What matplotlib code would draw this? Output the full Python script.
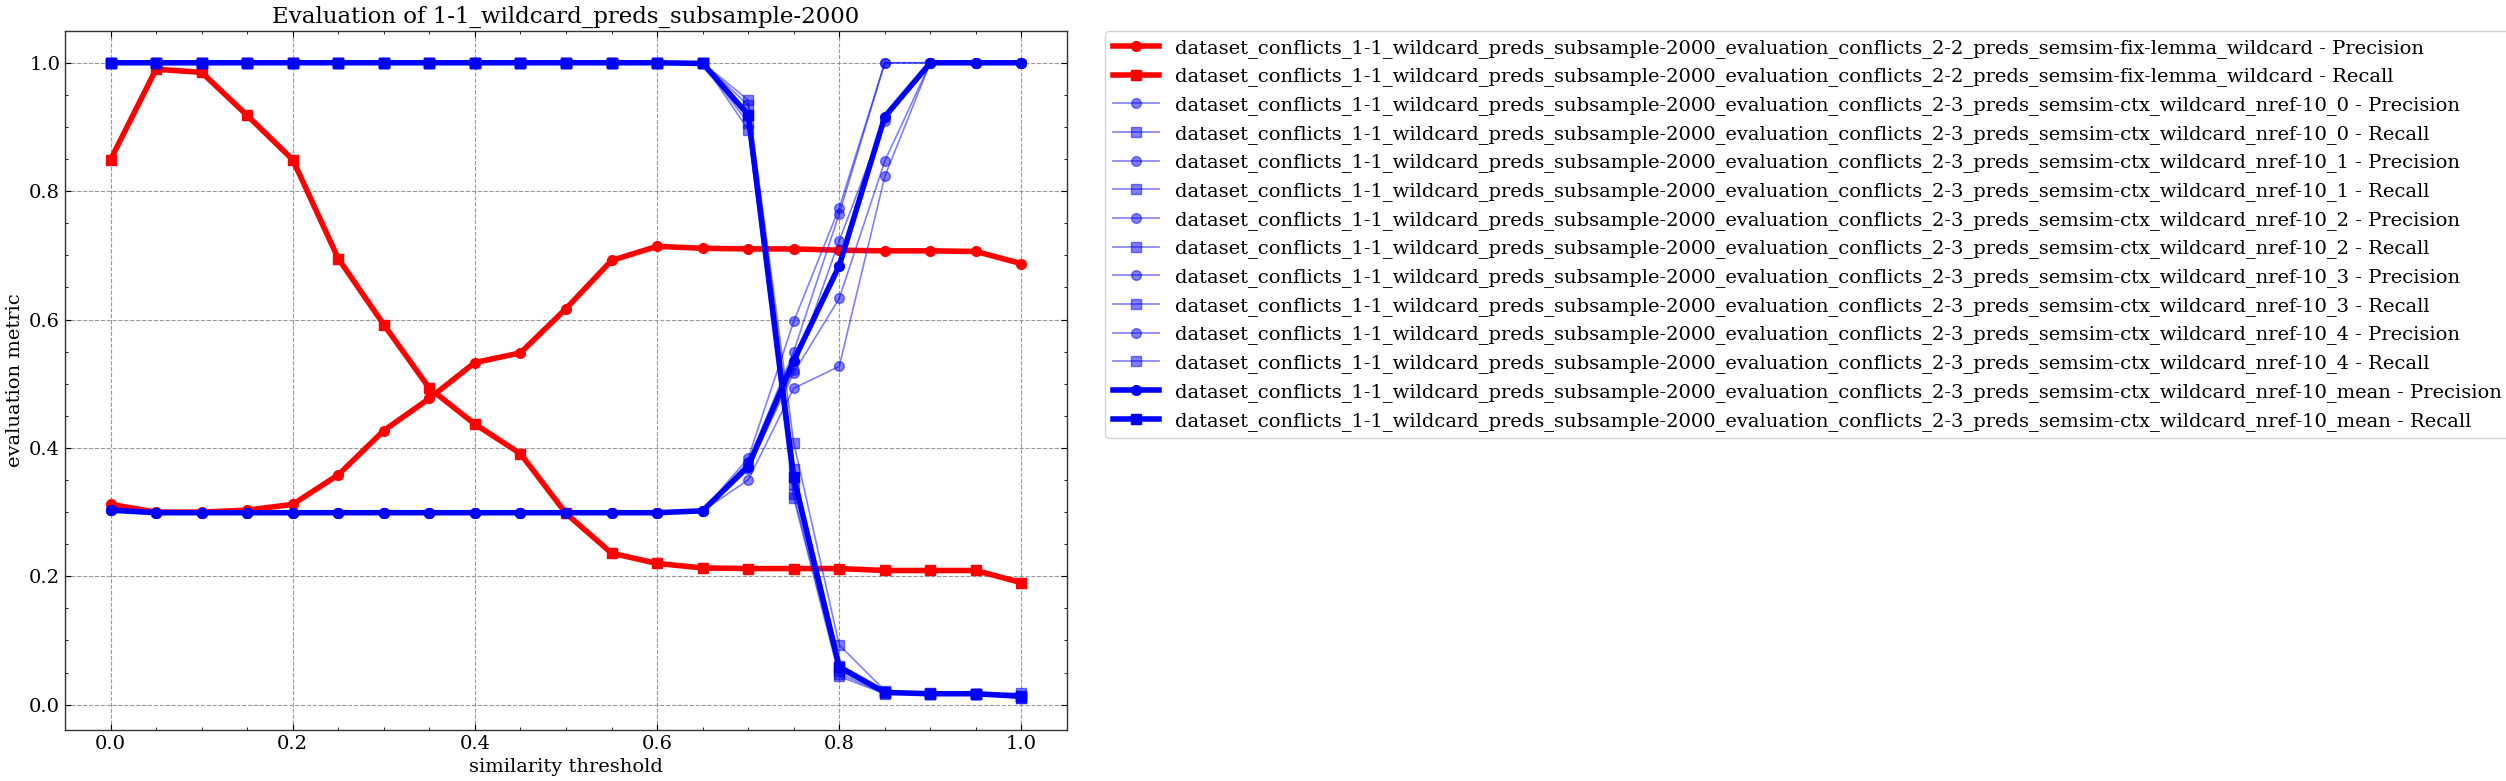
import matplotlib
matplotlib.use("Agg")
import matplotlib.pyplot as plt
from matplotlib.ticker import AutoMinorLocator

# similarity thresholds
thresholds = [0.0, 0.05, 0.1, 0.15, 0.2, 0.25, 0.3, 0.35, 0.4, 0.45, 0.5,
              0.55, 0.6, 0.65, 0.7, 0.75, 0.8, 0.85, 0.9, 0.95, 1.0]

base_name = "dataset_conflicts_1-1_wildcard_preds_subsample-2000_evaluation_conflicts_"
fix_name = base_name + "2-2_preds_semsim-fix-lemma_wildcard"
ctx_name = base_name + "2-3_preds_semsim-ctx_wildcard_nref-10"

# 2-2 fix-lemma run
fix_precision = [0.312, 0.300, 0.300, 0.303, 0.312, 0.358, 0.427, 0.477, 0.533, 0.548, 0.617,
                 0.692, 0.714, 0.711, 0.710, 0.710, 0.708, 0.707, 0.707, 0.706, 0.687]
fix_recall = [0.849, 0.990, 0.985, 0.918, 0.849, 0.695, 0.592, 0.493, 0.437, 0.391, 0.298,
              0.236, 0.220, 0.213, 0.212, 0.212, 0.212, 0.209, 0.209, 0.209, 0.190]

# 2-3 ctx runs (nref-10_0 .. nref-10_4)
ctx_precision = [
    [0.303, 0.299, 0.299, 0.299, 0.299, 0.299, 0.299, 0.299, 0.299, 0.299, 0.299,
     0.299, 0.299, 0.302, 0.384, 0.597, 0.774, 1.000, 1.000, 1.000, 1.000],
    [0.303, 0.299, 0.299, 0.299, 0.299, 0.299, 0.299, 0.299, 0.299, 0.299, 0.299,
     0.299, 0.299, 0.302, 0.378, 0.550, 0.765, 1.000, 1.000, 1.000, 1.000],
    [0.303, 0.299, 0.299, 0.299, 0.299, 0.299, 0.299, 0.299, 0.299, 0.299, 0.299,
     0.299, 0.299, 0.302, 0.376, 0.522, 0.723, 0.910, 1.000, 1.000, 1.000],
    [0.303, 0.299, 0.299, 0.299, 0.299, 0.299, 0.299, 0.299, 0.299, 0.299, 0.299,
     0.299, 0.299, 0.302, 0.367, 0.517, 0.633, 0.847, 1.000, 1.000, 1.000],
    [0.303, 0.299, 0.299, 0.299, 0.299, 0.299, 0.299, 0.299, 0.299, 0.299, 0.299,
     0.299, 0.299, 0.302, 0.350, 0.493, 0.527, 0.823, 1.000, 1.000, 1.000],
]
ctx_recall = [
    [1.0, 1.0, 1.0, 1.0, 1.0, 1.0, 1.0, 1.0, 1.0, 1.0, 1.0,
     1.0, 1.0, 1.0, 0.942, 0.408, 0.093, 0.022, 0.018, 0.017, 0.018],
    [1.0, 1.0, 1.0, 1.0, 1.0, 1.0, 1.0, 1.0, 1.0, 1.0, 1.0,
     1.0, 1.0, 1.0, 0.934, 0.367, 0.060, 0.020, 0.018, 0.017, 0.014],
    [1.0, 1.0, 1.0, 1.0, 1.0, 1.0, 1.0, 1.0, 1.0, 1.0, 1.0,
     1.0, 1.0, 1.0, 0.919, 0.343, 0.052, 0.019, 0.017, 0.017, 0.012],
    [1.0, 1.0, 1.0, 1.0, 1.0, 1.0, 1.0, 1.0, 1.0, 1.0, 1.0,
     1.0, 1.0, 1.0, 0.906, 0.328, 0.048, 0.018, 0.017, 0.016, 0.011],
    [1.0, 1.0, 1.0, 1.0, 1.0, 1.0, 1.0, 1.0, 1.0, 1.0, 1.0,
     1.0, 1.0, 1.0, 0.896, 0.322, 0.044, 0.017, 0.016, 0.016, 0.010],
]

# mean over the 5 ctx runs
mean_precision = [0.303, 0.299, 0.299, 0.299, 0.299, 0.299, 0.299, 0.299, 0.299, 0.299, 0.299,
                  0.299, 0.299, 0.302, 0.371, 0.536, 0.684, 0.916, 1.000, 1.000, 1.000]
mean_recall = [1.0, 1.0, 1.0, 1.0, 1.0, 1.0, 1.0, 1.0, 1.0, 1.0, 1.0,
               1.0, 1.0, 0.999, 0.919, 0.354, 0.059, 0.019, 0.017, 0.017, 0.013]

plt.rcParams['font.family'] = ['DejaVu Serif']
plt.rcParams['xtick.direction'] = 'in'
plt.rcParams['ytick.direction'] = 'in'
plt.rcParams['xtick.top'] = True
plt.rcParams['ytick.right'] = True

fig = plt.figure(figsize=(25.06, 7.81), dpi=100)
ax = fig.add_axes([65 / 2506, 51 / 781, 1002 / 2506, 699 / 781])

ax.plot(thresholds, fix_precision, color='red', marker='o', lw=4, ms=7,
        label=fix_name + " - Precision")
ax.plot(thresholds, fix_recall, color='red', marker='s', lw=4, ms=7,
        label=fix_name + " - Recall")

for i in range(5):
    ax.plot(thresholds, ctx_precision[i], color='blue', marker='o', lw=1.2, ms=7, alpha=0.5,
            label=f"{ctx_name}_{i} - Precision")
    ax.plot(thresholds, ctx_recall[i], color='blue', marker='s', lw=1.2, ms=7, alpha=0.5,
            label=f"{ctx_name}_{i} - Recall")

ax.plot(thresholds, mean_precision, color='blue', marker='o', lw=4, ms=7,
        label=ctx_name + "_mean - Precision")
ax.plot(thresholds, mean_recall, color='blue', marker='s', lw=4, ms=7,
        label=ctx_name + "_mean - Recall")

ax.set_title("Evaluation of 1-1_wildcard_preds_subsample-2000", fontsize=16.5)
ax.set_xlabel("similarity threshold", fontsize=14)
ax.set_ylabel("evaluation metric", fontsize=14)
ax.tick_params(labelsize=14)
ax.tick_params(which='major', length=4, width=0.8)
ax.tick_params(which='minor', length=2, width=0.6)
ax.xaxis.set_minor_locator(AutoMinorLocator(4))
ax.yaxis.set_minor_locator(AutoMinorLocator(4))
ax.grid(True, linestyle='--', color='gray', linewidth=0.8, alpha=0.8)
for s in ax.spines.values():
    s.set_color('#333333')
    s.set_linewidth(1.0)

fig.legend(loc='upper left', bbox_to_anchor=(1105 / 2506, 1 - 31 / 781),
           borderaxespad=0, fontsize=14, handlelength=2.4)

fig.savefig("out.png", dpi=100)
